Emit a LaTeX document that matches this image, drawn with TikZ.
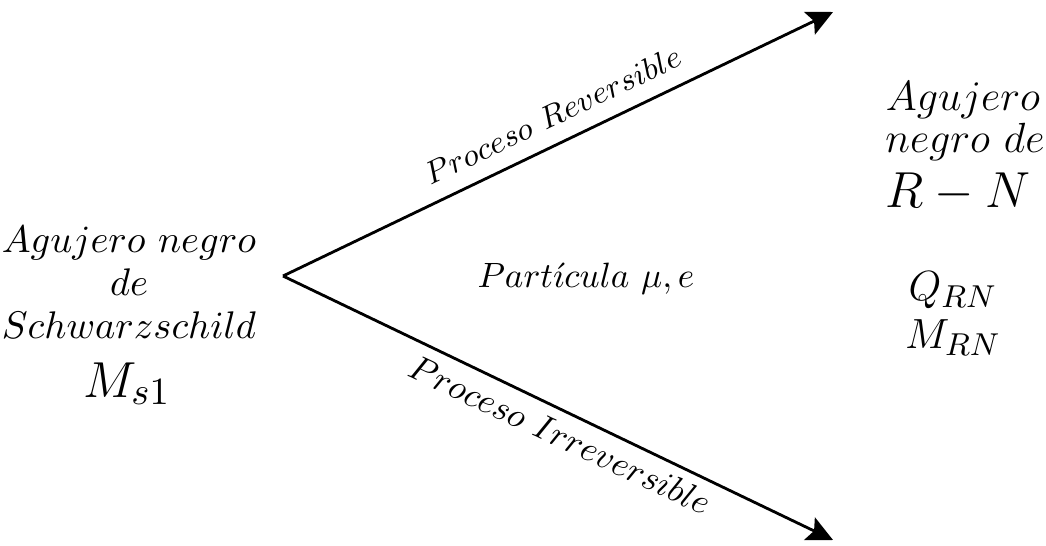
\documentclass[tikz,border=0pt]{standalone}
\usepackage{amsmath,amssymb}
\usepackage{tikz}
\usetikzlibrary{arrows.meta}

\begin{document}
\begin{tikzpicture}[x=0.01cm, y=0.01cm,
  every node/.style={inner sep=0pt, anchor=base},
  lft/.style={font=\fontsize{11}{13}\selectfont},
  rgt/.style={font=\fontsize{12}{14}\selectfont},
  arr/.style={-{Stealth[length=2.6mm, width=2.5mm, inset=0.5mm]}, line width=0.8pt},
  lbl/.style={font=\fontsize{10}{12}\selectfont}
]
\useasboundingbox (0,0) rectangle (1046,545);

\coordinate (apex) at (283,269);
\coordinate (top) at (833,533);
\coordinate (bot) at (833,5);

% left: initial black hole
\node[lft] (ag1) at (129,293) {$Agujero\ negro$};
\node[lft] (de1) at (129,250) {$de$};
\node[lft] (sch) at (129,207) {$Schwarzschild$};
\node[font=\fontsize{15}{18}\selectfont] (ms) at (127,148) {$M_{s1}$};

% middle
\node[lbl] (part) at (586,258) {$Part\acute{\imath}cula\ \mu,e$};

% right: final black hole
\node[rgt] (ag2) at (963,435) {$Agujero$};
\node[rgt] (ng2) at (965,393) {$negro\ de$};
\node[font=\fontsize{13.8}{16}\selectfont] (rn) at (958,338) {$R-N$};
\node[font=\fontsize{13}{15}\selectfont] (qrn) at (953,245) {$Q_{RN}$};
\node[font=\fontsize{13}{15}\selectfont] (mrn) at (953,197) {$M_{RN}$};

\draw[arr] (apex) -- (top);
\draw[arr] (apex) -- (bot);
\node[lbl, font=\fontsize{9.3}{11}\selectfont, rotate=25.6] (rev) at (557,420) {$Proceso\ Reversible$};
\node[lbl, rotate=-25.2] (irr) at (555,99) {$Proceso\ Irreversible$};
\end{tikzpicture}
\end{document}
